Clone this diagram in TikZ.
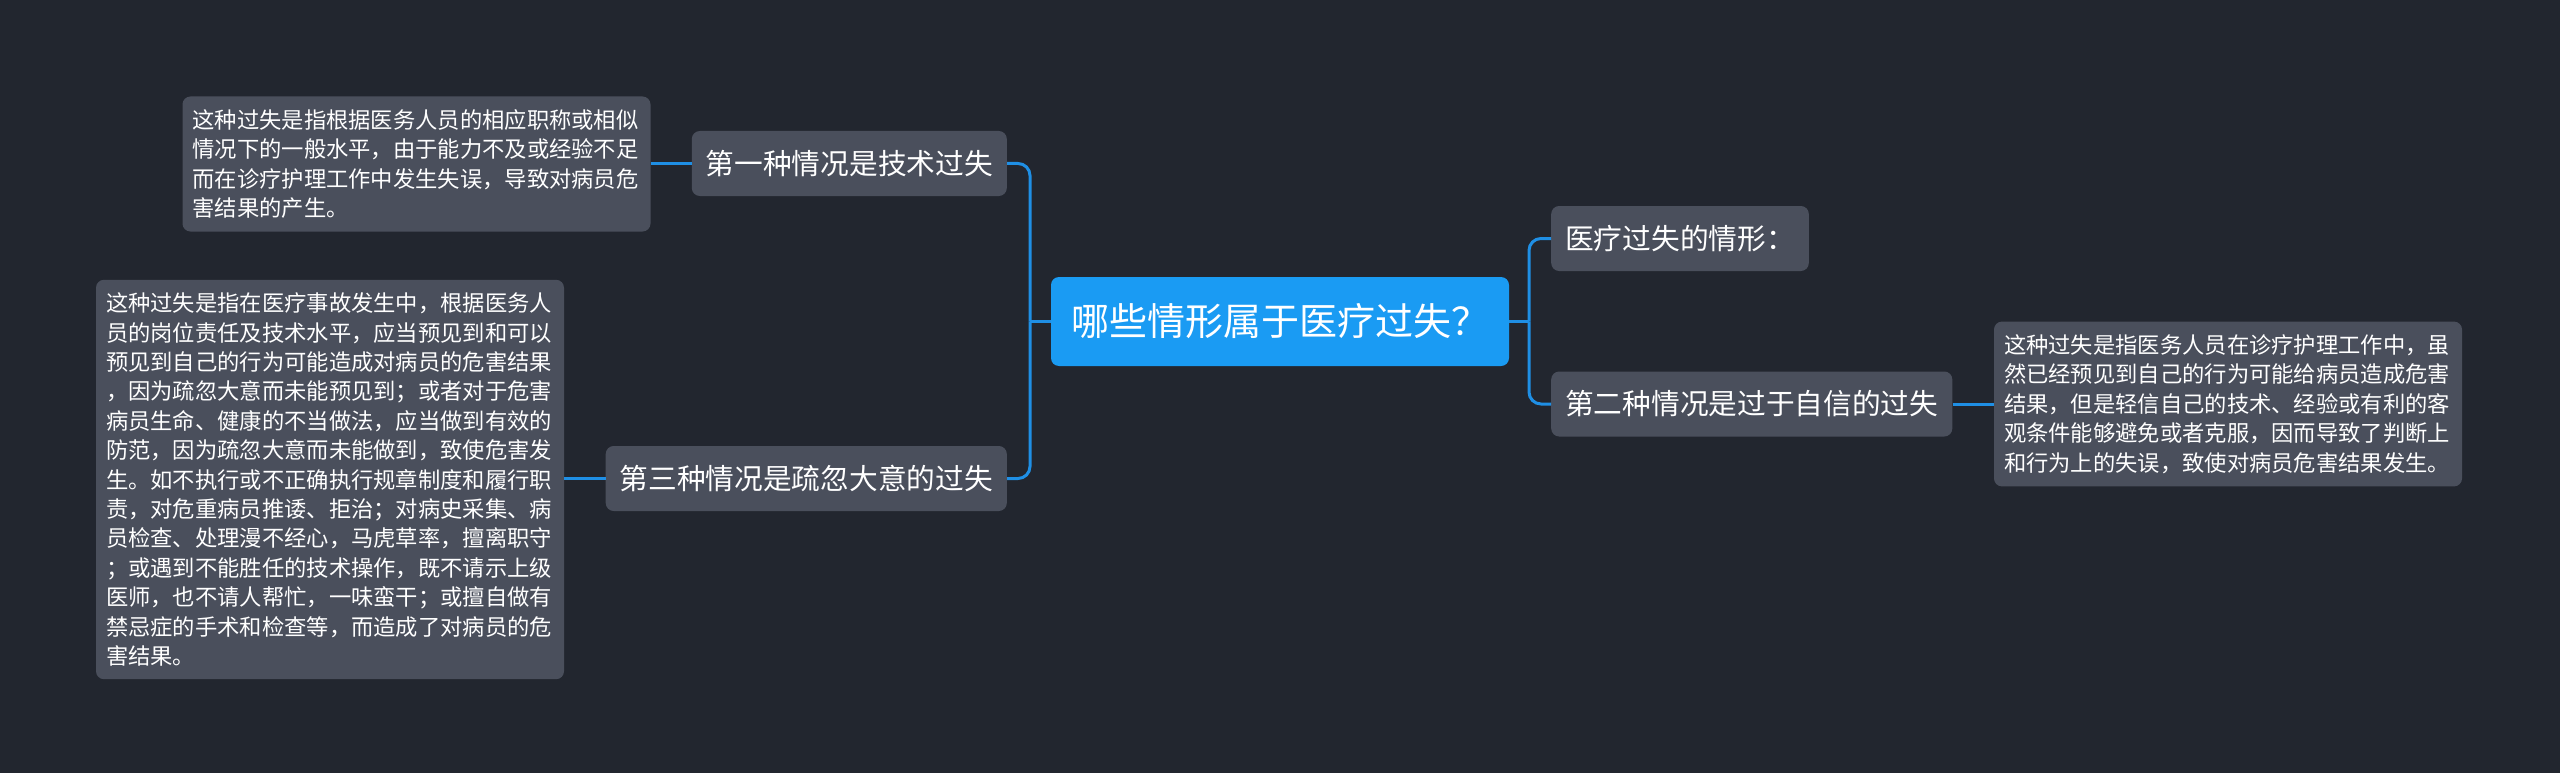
\documentclass[tikz,border=0pt]{standalone}
\usepackage{fontspec}
\setmainfont{Noto Sans CJK SC}
\definecolor{bg}{HTML}{22262F}
\definecolor{boxgray}{HTML}{4A4F5C}
\definecolor{rootblue}{HTML}{1A9BF3}
\definecolor{linkblue}{HTML}{1F8FE5}
\begin{document}
\begin{tikzpicture}[x=1pt,y=-1pt,
  box/.style={fill=boxgray, rounded corners=8pt, text=white, inner sep=0pt},
  subnode/.style={box, font=\fontsize{28.7}{34}\selectfont, minimum height=65pt, inner xsep=14pt, align=left},
  detail/.style={box, font=\fontsize{22.3}{29.4}\selectfont, text width=448pt, inner xsep=10pt, inner ysep=13pt, align=left},
  rootnode/.style={fill=rootblue, rounded corners=8pt, text=white, font=\fontsize{38}{44}\selectfont, minimum width=458pt, minimum height=89pt, inner sep=0pt},
  conn/.style={draw=linkblue, line width=3pt},
  connr/.style={conn, rounded corners=12pt}]
\fill[bg] (0,0) rectangle (2560,773);
\useasboundingbox (0,0) rectangle (2560,773);

\node[rootnode] (root) at (1280,321.5) {哪些情形属于医疗过失？};

\node[subnode, anchor=east] (n1) at (1007,163.5) {第一种情况是技术过失};
\node[subnode, anchor=east] (n3) at (1007,478.5) {第三种情况是疏忽大意的过失};
\node[subnode, anchor=west] (n0) at (1551,238.5) {医疗过失的情形：};
\node[subnode, anchor=west] (n2) at (1551,404) {第二种情况是过于自信的过失};

\node[detail] (d1) at (416.5,164) {这种过失是指根据医务人员的相应职称或相似\\情况下的一般水平，由于能力不及或经验不足\\而在诊疗护理工作中发生失误，导致对病员危\\害结果的产生。};
\node[detail] (d3) at (330,479.5) {这种过失是指在医疗事故发生中，根据医务人\\员的岗位责任及技术水平，应当预见到和可以\\预见到自己的行为可能造成对病员的危害结果\\，因为疏忽大意而未能预见到；或者对于危害\\病员生命、健康的不当做法，应当做到有效的\\防范，因为疏忽大意而未能做到，致使危害发\\生。如不执行或不正确执行规章制度和履行职\\责，对危重病员推诿、拒治；对病史采集、病\\员检查、处理漫不经心，马虎草率，擅离职守\\；或遇到不能胜任的技术操作，既不请示上级\\医师，也不请人帮忙，一味蛮干；或擅自做有\\禁忌症的手术和检查等，而造成了对病员的危\\害结果。};
\node[detail] (d2) at (2228,404) {这种过失是指医务人员在诊疗护理工作中，虽\\然已经预见到自己的行为可能给病员造成危害\\结果，但是轻信自己的技术、经验或有利的客\\观条件能够避免或者克服，因而导致了判断上\\和行为上的失误，致使对病员危害结果发生。};

\coordinate (lt) at (1030,321.5);
\coordinate (rt) at (1529,321.5);
\draw[conn] (root.west) -- (lt);
\draw[connr] (lt) |- (n1.east);
\draw[connr] (lt) |- (n3.east);
\draw[conn] (root.east) -- (rt);
\draw[connr] (rt) |- (n0.west);
\draw[connr] (rt) |- (n2.west);
\draw[conn] (n1.west) -- (n1.west -| d1.east);
\draw[conn] (n3.west) -- (n3.west -| d3.east);
\draw[conn] (n2.east) -- (n2.east -| d2.west);
\end{tikzpicture}
\end{document}
